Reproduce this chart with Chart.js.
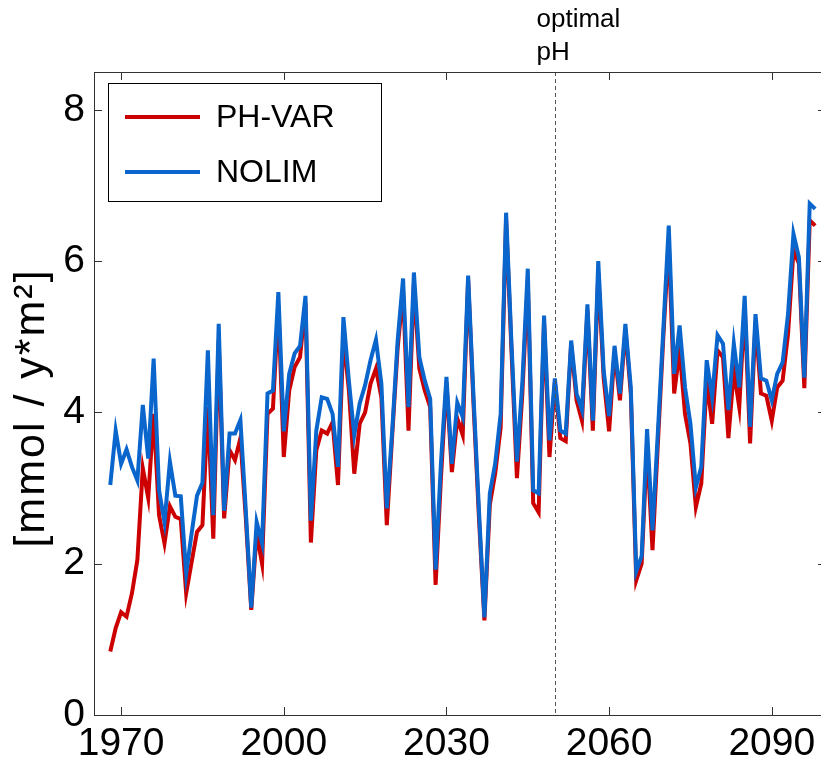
<!DOCTYPE html>
<html>
<head>
<meta charset="utf-8">
<script src="https://cdn.jsdelivr.net/npm/chart.js@4.4.1/dist/chart.umd.min.js"></script>
<style>
  html, body { margin: 0; padding: 0; background: #fff; overflow: hidden; }
  #wrap { width: 830px; height: 765px; }
</style>
</head>
<body>
<div id="wrap"><canvas id="chart" width="830" height="765"></canvas></div>
<script>
// yearly values, 1968 - 2098
const firstYear = 1968;

const phVar = [
  0.84, 1.15, 1.36, 1.30, 1.61, 2.05, 3.26, 2.87, 3.98, 2.64,
  2.27, 2.76, 2.62, 2.59, 1.61, 2.02, 2.42, 2.51, 4.07, 2.33,
  4.95, 2.60, 3.50, 3.37, 3.66, 2.60, 1.39, 2.40, 2.00, 3.98,
  4.05, 5.40, 3.41, 4.29, 4.60, 4.73, 5.45, 2.28, 3.50, 3.76,
  3.72, 3.87, 3.04, 5.00, 4.30, 3.19, 3.85, 4.00, 4.38, 4.58,
  4.20, 2.51, 3.70, 4.85, 5.60, 3.76, 5.70, 4.58, 4.29, 4.07,
  1.72, 3.15, 4.40, 3.21, 3.92, 3.70, 5.75, 4.10, 2.60, 1.25,
  2.78, 3.20, 3.80, 6.55, 4.80, 3.13, 4.25, 5.75, 2.80, 2.68,
  5.20, 3.41, 4.40, 3.66, 3.62, 4.90, 4.16, 3.89, 5.35, 3.76,
  5.85, 4.45, 3.75, 4.80, 4.16, 5.10, 4.25, 1.78, 2.00, 3.55,
  2.18, 3.60, 5.00, 6.25, 4.25, 4.82, 3.98, 3.59, 2.75, 3.06,
  4.42, 3.85, 4.82, 4.73, 3.66, 4.55, 4.07, 5.40, 3.59, 5.20,
  4.25, 4.22, 3.89, 4.33, 4.42, 5.04, 6.14, 5.97, 4.32, 6.54,
  6.47
];

const noLim = [
  3.04, 3.76, 3.32, 3.51, 3.28, 3.10, 4.10, 3.39, 4.71, 2.97,
  2.55, 3.35, 2.90, 2.89, 1.87, 2.40, 2.90, 3.07, 4.82, 2.64,
  5.17, 2.70, 3.72, 3.72, 3.90, 2.70, 1.42, 2.55, 2.27, 4.25,
  4.29, 5.59, 3.75, 4.51, 4.78, 4.88, 5.54, 2.57, 3.76, 4.20,
  4.18, 3.98, 3.28, 5.26, 4.42, 3.70, 4.12, 4.36, 4.69, 4.96,
  4.38, 2.73, 3.76, 4.95, 5.77, 4.07, 5.85, 4.73, 4.42, 4.18,
  1.92, 3.35, 4.47, 3.32, 4.13, 3.94, 5.81, 4.20, 2.70, 1.29,
  2.93, 3.33, 3.98, 6.64, 4.90, 3.35, 4.40, 5.90, 2.97, 2.93,
  5.28, 3.63, 4.45, 3.76, 3.72, 4.95, 4.25, 4.03, 5.43, 3.89,
  6.00, 4.55, 3.95, 4.88, 4.25, 5.17, 4.33, 1.90, 2.10, 3.78,
  2.44, 3.75, 5.10, 6.47, 4.51, 5.15, 4.33, 3.85, 3.01, 3.28,
  4.69, 4.20, 5.02, 4.91, 4.03, 4.91, 4.33, 5.54, 3.81, 5.30,
  4.45, 4.42, 4.16, 4.51, 4.66, 5.30, 6.36, 6.05, 4.46, 6.76,
  6.69
];

const xTicks = [1970, 2000, 2030, 2060, 2090];
const yTicks = [0, 2, 4, 6, 8];
const markerYear = 2050;
const markerText = ["optimal", "pH"];
const seriesNames = ["PH-VAR", "NOLIM"];
const seriesColors = ["#cc0000", "#0a66cc"];

const years = phVar.map((v, i) => firstYear + i);
const toPoints = arr => arr.map((v, i) => ({ x: years[i], y: v }));

const FONT = "'Liberation Sans', Arial, Helvetica, sans-serif";

// box, inward ticks, dashed marker, label text and legend
const decorPlugin = {
  id: 'decor',
  afterDatasetsDraw(chart) {
    const ctx = chart.ctx;
    const a = chart.chartArea;
    const xs = chart.scales.x, ys = chart.scales.y;
    ctx.save();

    // dashed marker line
    const mx = Math.round(xs.getPixelForValue(markerYear)) + 0.5;
    ctx.strokeStyle = '#555';
    ctx.lineWidth = 1;
    ctx.setLineDash([4, 3]);
    ctx.beginPath();
    ctx.moveTo(mx, a.top);
    ctx.lineTo(mx, a.bottom);
    ctx.stroke();
    ctx.setLineDash([]);

    // frame
    ctx.strokeStyle = '#333';
    ctx.lineWidth = 1;
    ctx.strokeRect(a.left + 0.5, a.top + 0.5, a.right - a.left, a.bottom - a.top);

    // inward ticks
    const tl = 8;
    ctx.beginPath();
    xTicks.forEach(v => {
      const px = Math.round(xs.getPixelForValue(v)) + 0.5;
      ctx.moveTo(px, a.bottom); ctx.lineTo(px, a.bottom - tl);
      ctx.moveTo(px, a.top); ctx.lineTo(px, a.top + tl);
    });
    yTicks.forEach(v => {
      const py = Math.round(ys.getPixelForValue(v)) + 0.5;
      ctx.moveTo(a.left, py); ctx.lineTo(a.left + tl, py);
      ctx.moveTo(a.right, py); ctx.lineTo(a.right - tl, py);
    });
    ctx.stroke();

    // text above the marker
    ctx.fillStyle = '#000';
    ctx.font = "26px " + FONT;
    ctx.textAlign = 'left';
    ctx.textBaseline = 'alphabetic';
    ctx.fillText(markerText[0], mx - 19, 27);
    ctx.fillText(markerText[1], mx - 19, 60);

    // y axis label
    ctx.save();
    ctx.translate(32, 408);
    ctx.rotate(-Math.PI / 2);
    ctx.font = "43px " + FONT;
    ctx.letterSpacing = '2px';
    ctx.textAlign = 'center';
    ctx.textBaseline = 'middle';
    ctx.fillText('[mmol / y*m²]', 0, 0);
    ctx.restore();

    // legend
    const lx = 108, ly = 83, lw = 273, lh = 118;
    ctx.fillStyle = '#fff';
    ctx.fillRect(lx, ly, lw, lh);
    ctx.strokeStyle = '#000';
    ctx.strokeRect(lx + 0.5, ly + 0.5, lw, lh);
    const rows = [117, 172];
    ctx.font = "32px " + FONT;
    ctx.textBaseline = 'middle';
    seriesNames.forEach((name, i) => {
      ctx.strokeStyle = seriesColors[i];
      ctx.lineWidth = 4;
      ctx.beginPath();
      ctx.moveTo(125, rows[i]);
      ctx.lineTo(200, rows[i]);
      ctx.stroke();
      ctx.fillStyle = '#000';
      ctx.fillText(name, 216, rows[i] + 1);
    });

    ctx.restore();
  }
};

new Chart(document.getElementById('chart'), {
  type: 'line',
  data: {
    datasets: [
      {
        label: seriesNames[0],
        data: toPoints(phVar),
        borderColor: seriesColors[0],
        borderWidth: 4,
        pointRadius: 0,
        tension: 0,
        order: 1
      },
      {
        label: seriesNames[1],
        data: toPoints(noLim),
        borderColor: seriesColors[1],
        borderWidth: 4,
        pointRadius: 0,
        tension: 0,
        order: 0
      }
    ]
  },
  options: {
    responsive: false,
    animation: false,
    devicePixelRatio: 1,
    layout: { padding: { top: 72, right: 4, left: 0, bottom: 0 } },
    plugins: {
      legend: { display: false },
      tooltip: { enabled: false }
    },
    scales: {
      x: {
        type: 'linear',
        min: 1965,
        max: 2100,
        afterBuildTicks: s => { s.ticks = xTicks.map(v => ({ value: v })); },
        afterFit: s => { s.height = 50; },
        grid: { display: false, drawTicks: false },
        border: { display: false },
        ticks: {
          color: '#000',
          padding: 6,
          maxRotation: 0,
          autoSkip: false,
          font: { family: FONT, size: 39 },
          callback: v => String(v)
        }
      },
      y: {
        min: 0,
        max: 8.5,
        afterBuildTicks: s => { s.ticks = yTicks.map(v => ({ value: v })); },
        afterFit: s => { s.width = 94; },
        grid: { display: false, drawTicks: false },
        border: { display: false },
        ticks: {
          color: '#000',
          padding: 9,
          font: { family: FONT, size: 39 },
          callback: v => String(v)
        }
      }
    }
  },
  plugins: [decorPlugin]
});
</script>
</body>
</html>
